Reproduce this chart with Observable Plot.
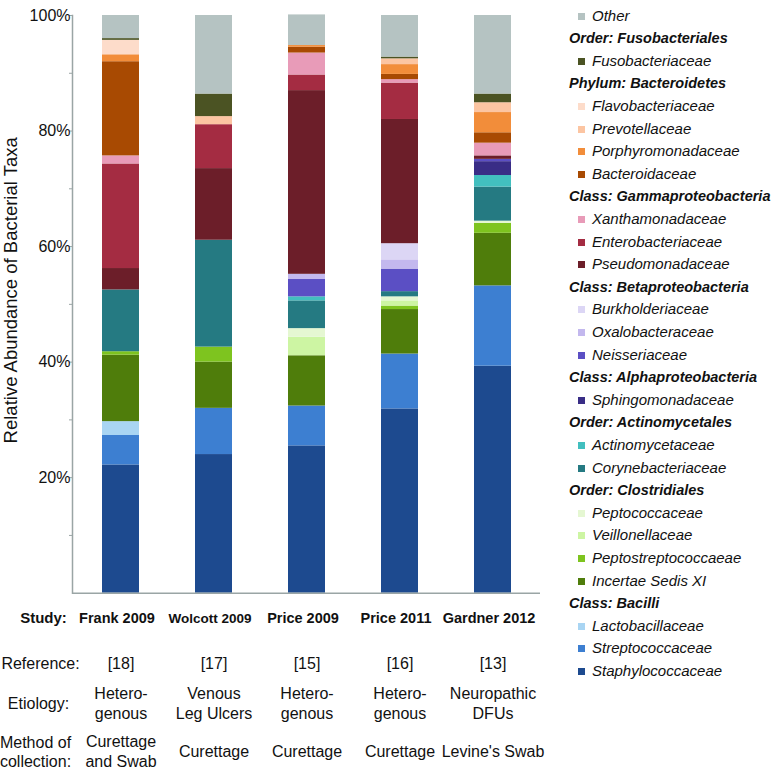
<!DOCTYPE html>
<html><head><meta charset="utf-8">
<script src="https://cdn.jsdelivr.net/npm/d3@7"></script>
<script src="https://cdn.jsdelivr.net/npm/@observablehq/plot@0.6"></script>
<style>
body{margin:0;background:#fff;font-family:"Liberation Sans",Arial,sans-serif;}
#wrap{position:relative;width:783px;height:770px;overflow:hidden;}
#legend{position:absolute;left:569px;top:4.7px;}
.row{height:22.6px;line-height:22.6px;white-space:nowrap;color:#111;}
.hdr{font-weight:bold;font-style:italic;font-size:14.5px;}
.item{font-style:italic;font-size:15px;padding-left:9px;}
.sw{display:inline-block;width:7px;height:7px;margin-right:7px;vertical-align:1px;}
</style></head><body><div id="wrap"><div id="legend"></div></div>
<script>
const studies = ["Frank 2009", "Wolcott 2009", "Price 2009", "Price 2011", "Gardner 2012"];
const references = ["[18]", "[17]", "[15]", "[16]", "[13]"];
const etiologies = ["Hetero-\ngenous", "Venous\nLeg Ulcers", "Hetero-\ngenous", "Hetero-\ngenous", "Neuropathic\nDFUs"];
const methods = ["Curettage\nand Swab", "Curettage", "Curettage", "Curettage", "Levine's Swab"];

// stacked bottom to top
const taxa = ["Staphylococcaceae", "Streptococcaceae", "Lactobacillaceae", "Incertae Sedis XI",
  "Peptostreptococcaeae", "Veillonellaceae", "Peptococcaceae", "Corynebacteriaceae", "Actinomycetaceae",
  "Sphingomonadaceae", "Neisseriaceae", "Oxalobacteraceae", "Burkholderiaceae", "Pseudomonadaceae",
  "Enterobacteriaceae", "Xanthamonadaceae", "Bacteroidaceae", "Porphyromonadaceae", "Prevotellaceae",
  "Flavobacteriaceae", "Fusobacteriaceae", "Other"];
const taxaColors = ["#1d4a8f", "#3d7fd1", "#a9d5f3", "#4f7d0b",
  "#7ec41f", "#cdf5a3", "#e5f7d2", "#257a82", "#42bfbf",
  "#392d86", "#5b4fc4", "#c3b8ee", "#dcd6f5", "#6c1e29",
  "#a42c42", "#e89bb8", "#a84a02", "#f28d3a", "#fcc5a2",
  "#fddcca", "#4b5323", "#b5c3c2"];

const frank2009   = [22.2, 5.1, 2.4, 11.5, 0.6, 0, 0, 10.7, 0, 0, 0, 0, 0, 3.7, 18.1, 1.4, 16.3, 1.2, 0, 2.5, 0.3, 4.0];
const wolcott2009 = [24.0, 8.0, 0, 8.0, 2.6, 0, 0, 18.5, 0, 0, 0, 0, 0, 12.4, 7.6, 0, 0, 0, 1.4, 0, 3.9, 13.6];
const price2009   = [25.5, 6.9, 0, 8.7, 0, 3.2, 1.5, 4.8, 0.7, 0, 3.0, 0.9, 0, 31.8, 2.7, 3.8, 1.0, 0.3, 0, 0, 0, 5.3];
const price2011   = [31.9, 9.5, 0, 7.7, 0.6, 0.9, 0.7, 0.9, 0, 0, 3.9, 1.6, 2.8, 21.5, 6.3, 0.6, 0.9, 1.7, 1.0, 0, 0.3, 7.2];
const gardner2012 = [39.3, 13.9, 0, 9.1, 1.7, 0, 0.4, 5.9, 2.0, 2.4, 0.4, 0, 0, 0.6, 0, 2.2, 1.8, 3.5, 1.7, 0, 1.5, 13.6];

const yTicks = [20, 40, 60, 80, 100];
const yMinorTicks = [10, 20, 30, 40, 50, 60, 70, 80, 90, 100];

const legendGroups = [
  {header: null, items: ["Other"]},
  {header: "Order: Fusobacteriales", items: ["Fusobacteriaceae"]},
  {header: "Phylum: Bacteroidetes", items: ["Flavobacteriaceae", "Prevotellaceae", "Porphyromonadaceae", "Bacteroidaceae"]},
  {header: "Class: Gammaproteobacteria", items: ["Xanthamonadaceae", "Enterobacteriaceae", "Pseudomonadaceae"]},
  {header: "Class: Betaproteobacteria", items: ["Burkholderiaceae", "Oxalobacteraceae", "Neisseriaceae"]},
  {header: "Class: Alphaproteobacteria", items: ["Sphingomonadaceae"]},
  {header: "Order: Actinomycetales", items: ["Actinomycetaceae", "Corynebacteriaceae"]},
  {header: "Order: Clostridiales", items: ["Peptococcaceae", "Veillonellaceae", "Peptostreptococcaeae", "Incertae Sedis XI"]},
  {header: "Class: Bacilli", items: ["Lactobacillaceae", "Streptococcaceae", "Staphylococcaceae"]}
];

const allValues = [frank2009, wolcott2009, price2009, price2011, gardner2012];
const data = [];
studies.forEach((s, i) => taxa.forEach((t, j) => data.push({study: s, taxon: t, value: allValues[i][j]})));

const axisColor = "#9aa5a5";
const font = "Liberation Sans, Arial, Helvetica, sans-serif";
const base = 592.7;
const cell = {frameAnchor: "bottom", lineAnchor: "middle", textAnchor: "middle", fontSize: 16, lineHeight: 1.25};
const rowHead = {frameAnchor: "bottom-left", lineAnchor: "middle", textAnchor: "middle", fontSize: 16, lineHeight: 1.2};

const plot = Plot.plot({
  width: 783, height: 770,
  marginLeft: 72, marginRight: 243, marginTop: 15, marginBottom: 770 - base,
  style: {fontFamily: font, fontSize: "16px", color: "#111", background: "transparent"},
  x: {domain: studies, paddingInner: 0.605, paddingOuter: 0.3025, axis: null},
  y: {domain: [0, 100], axis: null, label: null},
  color: {domain: taxa, range: taxaColors},
  marks: [
    Plot.barY(data, {x: "study", y: "value", fill: "taxon"}),
    Plot.ruleY([0], {stroke: axisColor, strokeWidth: 1.5}),
    Plot.frame({anchor: "left", stroke: axisColor, strokeWidth: 1.5}),
    Plot.axisY({ticks: yMinorTicks, tickSize: 3, tickFormat: () => "", stroke: axisColor, label: null}),
    Plot.axisY({ticks: yTicks, tickSize: 0, tickPadding: 2, tickFormat: d => d + "%", fontSize: 16, label: null}),
    Plot.text(["Relative Abundance of Bacterial Taxa"], {frameAnchor: "left", lineAnchor: "middle", textAnchor: "middle", rotate: -90, dx: -61, dy: -14, fontSize: 18.5}),
    // table
    Plot.text(studies, {...cell, x: d => d, text: d => d, dx: -4, dy: 617 - base, fontWeight: "bold", fontSize: d => d === "Wolcott 2009" ? 13.5 : 14.5}),
    Plot.text(studies, {...cell, x: d => d, text: (d, i) => references[i], dy: 662 - base}),
    Plot.text(studies, {...cell, x: d => d, text: (d, i) => etiologies[i], dy: 702 - base}),
    Plot.text(studies, {...cell, x: d => d, text: (d, i) => methods[i], dy: 750 - base}),
    Plot.text(["Study:"], {...rowHead, dx: -29, dy: 617 - base, fontWeight: "bold", fontSize: 15}),
    Plot.text(["Reference:"], {...rowHead, dx: -32, dy: 662 - base}),
    Plot.text(["Etiology:"], {...rowHead, dx: -34, dy: 702 - base}),
    Plot.text(["Method of\ncollection:"], {...rowHead, dx: -37, dy: 751 - base})
  ]
});
plot.style.position = "absolute";
plot.style.left = "0px";
plot.style.top = "0px";
const wrap = document.getElementById("wrap");
wrap.insertBefore(plot, wrap.firstChild);

const color = plot.scale("color");
const legend = document.getElementById("legend");
for (const g of legendGroups) {
  if (g.header) {
    const h = document.createElement("div");
    h.className = "row hdr";
    h.textContent = g.header;
    legend.appendChild(h);
  }
  for (const it of g.items) {
    const r = document.createElement("div");
    r.className = "row item";
    const sw = document.createElement("span");
    sw.className = "sw";
    sw.style.background = color.apply(it);
    r.appendChild(sw);
    r.appendChild(document.createTextNode(it));
    legend.appendChild(r);
  }
}
</script></body></html>
